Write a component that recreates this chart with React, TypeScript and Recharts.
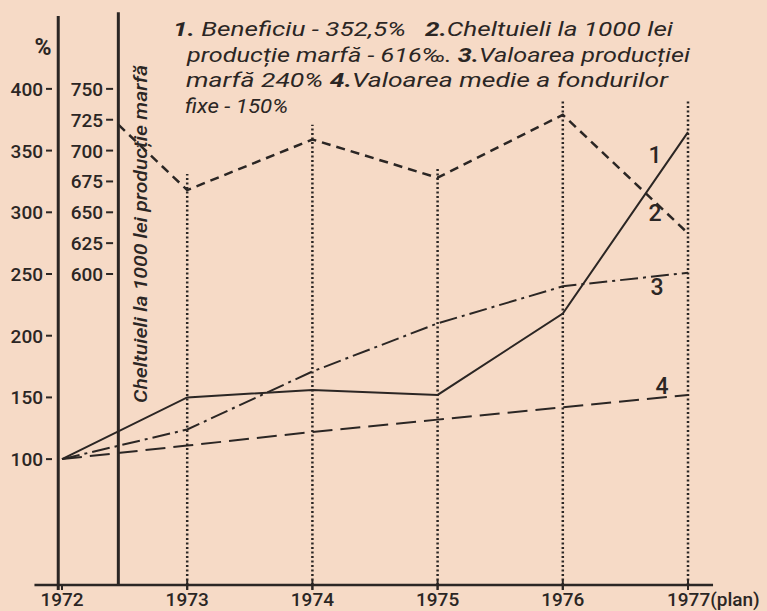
import React from "react";
import {
  LineChart, Line, XAxis, YAxis, ReferenceLine,
} from "recharts";

// years on the time axis; 1977 is the plan year
const years = [1972, 1973, 1974, 1975, 1976, 1977];
// 1. Beneficiu (%)
const beneficiu = [100, 150, 156, 152, 218, 365];
// 3. Valoarea producției marfă (%)
const productieMarfa = [100, 124, 171, 210, 240, 251];
// 4. Valoarea medie a fondurilor fixe (%)
const fonduriFixe = [100, 111, 122, 132, 142, 152];
// 2. Cheltuieli la 1000 lei producție marfă (‰) - starts at the second axis
const cheltuieliYears = [1972.45, 1973, 1974, 1975, 1976, 1977];
const cheltuieli = [721, 668, 709, 678, 729, 633];

const pctTicks = [100, 150, 200, 250, 300, 350, 400];
const permilleTicks = [600, 625, 650, 675, 700, 725, 750];
// height (in %) of the dotted year guides
const guideTops = [331, 371, 337, 391, 391];

const INK = "#2b2624";
const PAPER = "#f6dac6";
const FONT = "Roboto, 'DejaVu Sans', sans-serif";

const pctData = years.map((y, i) => ({ year: y, b: beneficiu[i], p: productieMarfa[i], f: fonduriFixe[i] }));
const chData = cheltuieliYears.map((y, i) => ({ year: y, c: cheltuieli[i] }));

const seriesLabel = (text: string, dx: number, dy: number, last: number) =>
  (props: any) => {
    if (props.index !== last) return <g />;
    return (
      <text x={props.x + dx} y={props.y + dy} textAnchor="middle" dominantBaseline="central"
        fontFamily={FONT} fontSize={23} fontWeight={500} fill={INK}>{text}</text>
    );
  };

const PctTick = (props: any) => {
  const { y, payload } = props;
  return (
    <g>
      <text x={43} y={y} dy={7} textAnchor="end" fontFamily={FONT} fontSize={19} fontWeight={500} fill={INK}>{payload.value}</text>
      <line x1={46} x2={52} y1={y} y2={y} stroke={INK} strokeWidth={2} />
    </g>
  );
};

const permilleLabel = (v: number) => (props: any) => {
  const vb = props.viewBox || {};
  return (
    <text x={(vb.x ?? 0) - 3} y={vb.y ?? 0} dy={7} textAnchor="end" fontFamily={FONT} fontSize={19}
      fontWeight={500} fill={INK}>{v}</text>
  );
};

const YearTick = (props: any) => {
  const { x, payload } = props;
  const last = payload.value === 1977;
  return (
    <text x={last ? x - 21 : x} y={606} textAnchor={last ? "start" : "middle"}
      fontFamily={FONT} fontSize={19} fontWeight={500} fill={INK}>
      {payload.value}{last ? "(plan)" : ""}
    </text>
  );
};

export default function App() {
  return (
    <div style={{ position: "absolute", left: 0, top: 0, width: 767, height: 611, background: PAPER, overflow: "hidden" }}>
      <LineChart width={767} height={611} margin={{ top: 21, right: 79, bottom: 0, left: 0 }}>
        <XAxis dataKey="year" type="number" domain={[1972, 1977]} ticks={years} height={26}
          axisLine={false} tickLine={{ stroke: INK, strokeWidth: 2 }} tickSize={5} tick={<YearTick />}
          allowDuplicatedCategory={false} />
        <YAxis yAxisId="pct" domain={[-2, 455]} ticks={pctTicks} width={62}
          axisLine={false} tickLine={false} tick={<PctTick />} />
        <YAxis yAxisId="pm" hide domain={[348, 805]} />

        {years.slice(1).map((yr, i) => (
          <ReferenceLine key={yr} yAxisId="pct" ifOverflow="visible"
            segment={[{ x: yr, y: -2 }, { x: yr, y: guideTops[i] }]}
            stroke={INK} strokeWidth={2.5} strokeDasharray="2 2.5" />
        ))}
        {years.slice(1).map((yr) => (
          <ReferenceLine key={"t" + yr} yAxisId="pct" ifOverflow="visible"
            segment={[{ x: yr, y: -6 }, { x: yr, y: 2 }]} stroke={INK} strokeWidth={2} />
        ))}
        {permilleTicks.map((v) => (
          <ReferenceLine key={"pm" + v} yAxisId="pm" ifOverflow="visible"
            segment={[{ x: 1972.352, y: v }, { x: 1972.408, y: v }]} stroke={INK} strokeWidth={2}
            label={permilleLabel(v)} />
        ))}
        <ReferenceLine yAxisId="pct" ifOverflow="visible"
          segment={[{ x: 1971.78, y: -2 }, { x: 1977.2, y: -2 }]} stroke={INK} strokeWidth={2.5} />
        <ReferenceLine yAxisId="pct" ifOverflow="visible"
          segment={[{ x: 1971.97, y: -6 }, { x: 1971.97, y: 459 }]} stroke={INK} strokeWidth={3} />
        <ReferenceLine yAxisId="pct" ifOverflow="visible"
          segment={[{ x: cheltuieliYears[0], y: -2 }, { x: cheltuieliYears[0], y: 462 }]} stroke={INK} strokeWidth={3} />

        <Line yAxisId="pct" data={pctData} dataKey="f" stroke={INK} strokeWidth={2} strokeDasharray="20 8"
          dot={false} isAnimationActive={false} label={seriesLabel("4", -26, -8, 5)} />
        <Line yAxisId="pct" data={pctData} dataKey="p" stroke={INK} strokeWidth={2} strokeDasharray="18 5 3 5"
          dot={false} isAnimationActive={false} label={seriesLabel("3", -31, 15, 5)} />
        <Line yAxisId="pct" data={pctData} dataKey="b" stroke={INK} strokeWidth={2}
          dot={false} isAnimationActive={false} label={seriesLabel("1", -33, 23, 5)} />
        <Line yAxisId="pm" data={chData} dataKey="c" stroke={INK} strokeWidth={2.5} strokeDasharray="9 6"
          dot={false} isAnimationActive={false} label={seriesLabel("2", -33, -20, 5)} />
      </LineChart>

      <svg width={767} height={611} style={{ position: "absolute", left: 0, top: 0, pointerEvents: "none" }}>
        <text x={43} y={55} textAnchor="middle" fontFamily={FONT} fontSize={23} fontWeight={700} fill={INK}>%</text>
        <g fontFamily={FONT} fontStyle="italic" fontSize={20} fill={INK}>
          <text x={173} y={36} textLength={500} lengthAdjust="spacingAndGlyphs">
            <tspan fontWeight={700}>1.</tspan> Beneficiu - 352,5%{"\u00a0\u00a0\u00a0"}<tspan fontWeight={700}>2.</tspan>Cheltuieli la 1000 lei
          </text>
          <text x={187} y={62} textLength={503} lengthAdjust="spacingAndGlyphs">
            producție marfă - 616‰. <tspan fontWeight={700}>3.</tspan>Valoarea producției
          </text>
          <text x={186} y={87} textLength={482} lengthAdjust="spacingAndGlyphs">
            marfă 240% <tspan fontWeight={700}>4.</tspan>Valoarea medie a fondurilor
          </text>
          <text x={185} y={113} textLength={103} lengthAdjust="spacingAndGlyphs">fixe - 150%</text>
        </g>
        <text transform="translate(147 403) rotate(-90)" x={0} y={0} textLength={338} lengthAdjust="spacingAndGlyphs"
          fontFamily={FONT} fontStyle="italic" fontSize={19} fontWeight={500} fill={INK}>
          Cheltuieli la 1000 lei producție marfă
        </text>
      </svg>
    </div>
  );
}
